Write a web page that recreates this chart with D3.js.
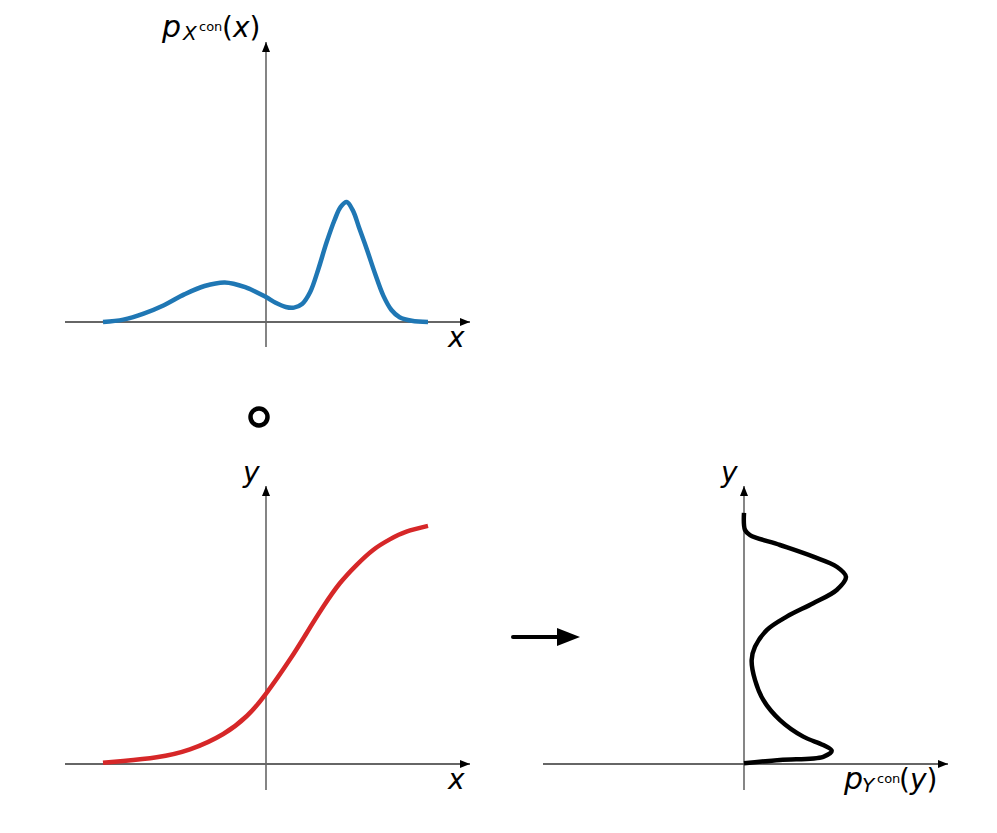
<!DOCTYPE html>
<html>
<head>
<meta charset="utf-8">
<script src="https://cdn.jsdelivr.net/npm/d3@7"></script>
<style>
  html, body { margin: 0; padding: 0; background: #fff; }
  svg text { font-family: "DejaVu Sans", sans-serif; }
</style>
</head>
<body>
<svg id="chart" width="997" height="833"></svg>
<script>
// ---- Data ----
// Top panel: density p_X(x)
const xValsTop = [-4, -3.5, -3, -2.5, -2, -1.5, -1, -0.5, 0, 0.25, 0.5, 0.7, 0.9, 1.1, 1.3, 1.5, 1.7, 1.85, 2, 2.15, 2.3, 2.5, 2.7, 2.9, 3.1, 3.3, 3.6, 4];
const pX      = [0.0, 0.02, 0.07, 0.14, 0.23, 0.30, 0.33, 0.29, 0.21, 0.16, 0.125, 0.12, 0.15, 0.25, 0.44, 0.66, 0.85, 0.96, 1.0, 0.93, 0.79, 0.60, 0.40, 0.22, 0.10, 0.04, 0.01, 0.0];

// Bottom-left panel: transform y = g(x)
const xValsG = [-4, -3.5, -2.68, -1.86, -1.04, -0.46, 0, 0.6, 1.01, 1.42, 1.83, 2.24, 2.65, 3.06, 3.47, 4.0];
const gY     = [0.005, 0.0125, 0.028, 0.061, 0.125, 0.20, 0.29, 0.435, 0.545, 0.655, 0.753, 0.829, 0.892, 0.936, 0.968, 0.992];

// Bottom-right panel: density p_Y(y)
const yValsP = [0.003, 0.017, 0.030, 0.055, 0.079, 0.114, 0.183, 0.267, 0.35, 0.433, 0.489, 0.558, 0.614, 0.67, 0.725, 0.78, 0.822, 0.864, 0.9125, 0.954, 0.975, 1.046];
const pY     = [0.0, 0.353, 0.777, 0.86, 0.777, 0.581, 0.353, 0.189, 0.108, 0.075, 0.108, 0.223, 0.419, 0.679, 0.909, 1.0, 0.909, 0.679, 0.353, 0.059, 0.01, 0.0];

// ---- Drawing ----
const svg = d3.select("#chart");
const defs = svg.append("defs");
function marker(id, color, w, h) {
  defs.append("marker").attr("id", id)
    .attr("viewBox", `0 0 ${w} ${h}`).attr("refX", w).attr("refY", h / 2)
    .attr("markerUnits", "userSpaceOnUse")
    .attr("markerWidth", w).attr("markerHeight", h).attr("orient", "auto")
    .append("path").attr("d", `M0,0 L${w},${h / 2} L0,${h} Z`).attr("fill", color);
}
marker("ah", "#000", 10, 8);

function axisLine(x1, y1, x2, y2, color, width) {
  svg.append("line").attr("x1", x1).attr("y1", y1).attr("x2", x2).attr("y2", y2)
    .attr("stroke", color).attr("stroke-width", width).attr("marker-end", "url(#ah)");
}

const smooth = d3.curveCatmullRom.alpha(0.5);

// Scales
const xTop = d3.scaleLinear().domain([-4, 4]).range([103, 428]);
const yTop = d3.scaleLinear().domain([0, 1]).range([322, 202]);
const yBot = d3.scaleLinear().domain([0, 1]).range([764, 524]);
const dBot = d3.scaleLinear().domain([0, 1]).range([744, 846]);

// ----- Top panel -----
axisLine(65, 322, 470, 322, "#333", 1.3);
axisLine(266, 347, 266, 42, "#666", 1.6);
svg.append("path")
  .datum(xValsTop.map((x, i) => [x, pX[i]]))
  .attr("fill", "none").attr("stroke", "#1f77b4").attr("stroke-width", 4.5)
  .attr("d", d3.line().x(d => xTop(d[0])).y(d => yTop(d[1])).curve(smooth));

// label p_{X^con}(x)
const lt = svg.append("text").attr("y", 37).attr("fill", "#000");
lt.append("tspan").attr("x", 162).attr("font-size", 30).attr("font-style", "italic").text("p");
lt.append("tspan").attr("x", 183).attr("y", 40).attr("font-size", 20).attr("font-style", "italic").text("X");
lt.append("tspan").attr("x", 199).attr("y", 31).attr("font-size", 13).text("con");
lt.append("tspan").attr("x", 222).attr("y", 37).attr("font-size", 28).text("(");
lt.append("tspan").attr("font-size", 28).attr("font-style", "italic").text("x");
lt.append("tspan").attr("font-size", 28).text(")");

svg.append("text").attr("x", 448).attr("y", 347).attr("font-size", 28).attr("font-style", "italic").text("x");

// composition circle
svg.append("circle").attr("cx", 259).attr("cy", 417).attr("r", 8.5)
  .attr("fill", "none").attr("stroke", "#000").attr("stroke-width", 4.5);

// ----- Bottom-left panel -----
axisLine(65, 764, 470, 764, "#333", 1.3);
axisLine(266, 790, 266, 486, "#666", 1.6);
svg.append("path")
  .datum(xValsG.map((x, i) => [x, gY[i]]))
  .attr("fill", "none").attr("stroke", "#d62728").attr("stroke-width", 4.5)
  .attr("d", d3.line().x(d => xTop(d[0])).y(d => yBot(d[1])).curve(d3.curveNatural));
svg.append("text").attr("x", 243).attr("y", 482).attr("font-size", 28).attr("font-style", "italic").text("y");
svg.append("text").attr("x", 448).attr("y", 789).attr("font-size", 28).attr("font-style", "italic").text("x");

// ----- Middle arrow -----
svg.append("line").attr("x1", 513).attr("y1", 637).attr("x2", 560).attr("y2", 637)
  .attr("stroke", "#000").attr("stroke-width", 4).attr("stroke-linecap", "round");
svg.append("path").attr("d", "M557,628 L580,637 L557,646 Z").attr("fill", "#000");

// ----- Bottom-right panel -----
axisLine(543, 764, 948, 764, "#333", 1.3);
axisLine(744, 790, 744, 486, "#444", 1.3);
svg.append("path")
  .datum(yValsP.map((y, i) => [pY[i], y]))
  .attr("fill", "none").attr("stroke", "#000").attr("stroke-width", 4.5)
  .attr("d", d3.line().x(d => dBot(d[0])).y(d => yBot(d[1])).curve(smooth));
svg.append("text").attr("x", 721).attr("y", 482).attr("font-size", 28).attr("font-style", "italic").text("y");

const lb = svg.append("text").attr("y", 789).attr("fill", "#000");
lb.append("tspan").attr("x", 844).attr("font-size", 30).attr("font-style", "italic").text("p");
lb.append("tspan").attr("x", 862).attr("y", 792).attr("font-size", 20).attr("font-style", "italic").text("Y");
lb.append("tspan").attr("x", 877).attr("y", 783).attr("font-size", 13).text("con");
lb.append("tspan").attr("x", 899).attr("y", 789).attr("font-size", 28).text("(");
lb.append("tspan").attr("font-size", 28).attr("font-style", "italic").text("y");
lb.append("tspan").attr("font-size", 28).text(")");
</script>
</body>
</html>
